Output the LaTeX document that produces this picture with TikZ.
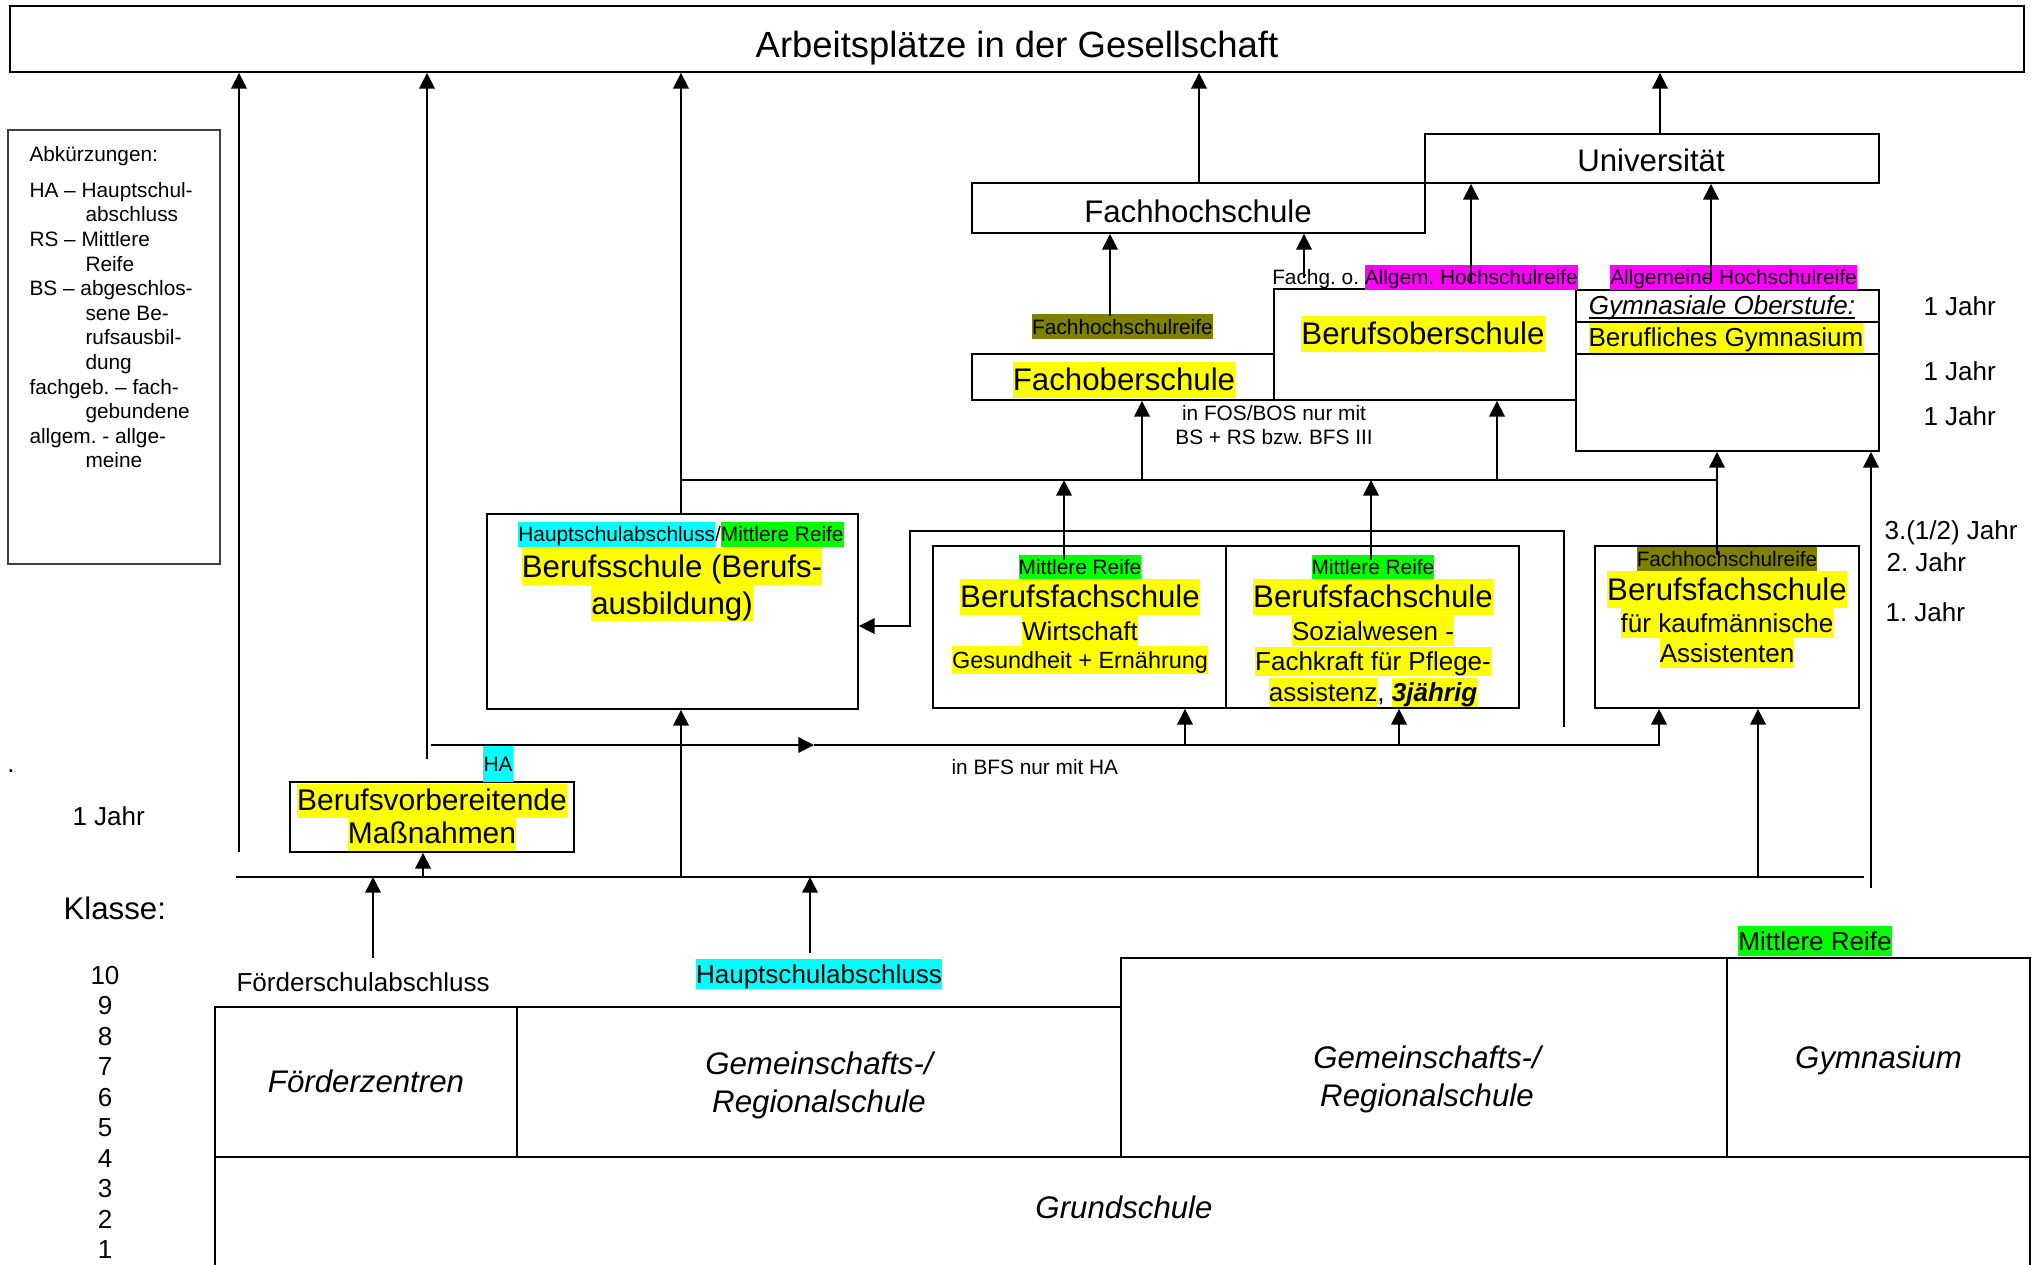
\documentclass[tikz,border=0pt]{standalone}
\usepackage{fontspec}
\setmainfont{Liberation Sans}
\usetikzlibrary{arrows.meta,positioning,calc}

\definecolor{hlyellow}{RGB}{255,255,0}
\definecolor{hlcyan}{RGB}{0,255,255}
\definecolor{hlgreen}{RGB}{0,255,0}
\definecolor{hlmagenta}{RGB}{255,0,255}
\definecolor{hlolive}{RGB}{128,128,0}

\newcommand{\hlstrut}{\vrule width0pt height0.8\baselineskip depth0.2\baselineskip\relax}
\newcommand{\hlbox}[2]{{\setlength{\fboxsep}{0pt}\colorbox{#1}{\hlstrut#2}}}
\newcommand{\ulin}[1]{\setbox0=\hbox{#1}\makebox[0pt][l]{\rule[-0.14em]{\wd0}{0.07em}}\box0}
\newcommand{\szTitle}{\fontsize{14}{16.1}\selectfont}
\newcommand{\szBig}{\fontsize{12}{14}\selectfont}
\newcommand{\szBv}{\fontsize{11.5}{12.7}\selectfont}
\newcommand{\szMid}{\fontsize{10}{11.5}\selectfont}
\newcommand{\szNine}{\fontsize{9}{10.8}\selectfont}
\newcommand{\szSmall}{\fontsize{8}{9.6}\selectfont}

\tikzset{
  bx/.style 2 args={draw, line width=0.7pt, inner sep=0pt, minimum width=#1*0.0135cm, minimum height=#2*0.0135cm},
  txt/.style={inner sep=0pt, align=center},
  ln/.style={line width=0.6pt},
  arr/.style={line width=0.6pt, -{Triangle[length=6pt,width=6pt]}}
}

\begin{document}
\frenchspacing
\begin{tikzpicture}[x=0.0135cm, y=-0.0135cm]
	\useasboundingbox (0,0) rectangle (2040,1264);
	\clip (0,0) rectangle (2040,1264);

	\node[bx={2014}{66}] (work) at (1017,39) {};
	\node[txt, font=\szTitle] (worktxt) at (1017,45) {\hlstrut Arbeitsplätze in der Gesellschaft};

	\node[bx={212}{434}, draw=black!75, line width=0.6pt] (abk) at (114,347) {};
	\node[txt, align=left, anchor=north west, font={\fontsize{8}{9.45}\selectfont}] (abktxt) at (29,141) {\hlstrut Abkürzungen:\\[4.4pt]
		HA -- Hauptschul-\\
		\hspace*{0.756cm}abschluss\\
		RS -- Mittlere\\
		\hspace*{0.756cm}Reife\\
		BS -- abgeschlos-\\
		\hspace*{0.756cm}sene Be-\\
		\hspace*{0.756cm}rufsausbil-\\
		\hspace*{0.756cm}dung\\
		fachgeb. -- fach-\\
		\hspace*{0.756cm}gebundene\\
		allgem. - allge-\\
		\hspace*{0.756cm}meine};

	\node[bx={284}{70}] (bv) at (432,817) {};
	\node[txt, font=\szBv] (bvtxt) at (432,817.5) {\hlbox{hlyellow}{Berufsvorbereitende}\\\hlbox{hlyellow}{Maßnahmen}};
	\node[fill=hlcyan, inner sep=0pt, minimum width=30*0.0135cm, minimum height=36*0.0135cm, font=\szSmall] (halbl) at (498,764) {HA};

	\node[bx={371}{195}] (bs) at (672.5,611.5) {};
	\node[txt, font=\szSmall] (bslbl) at (681,534) {\hlbox{hlcyan}{Hauptschulabschluss}/\hlbox{hlgreen}{Mittlere Reife}};
	\node[txt, font={\fontsize{12}{14.2}\selectfont}] (bstxt) at (672,584.5) {\hlbox{hlyellow}{Berufsschule (Berufs-}\\\hlbox{hlyellow}{ausbildung)}};

	\node[bx={293}{162}] (bfw) at (1079.5,627) {};
	\node[txt, font=\szSmall] (bfw1) at (1080,567) {\hlbox{hlgreen}{Mittlere Reife}};
	\node[txt, font=\szBig] (bfw2) at (1080,597) {\hlbox{hlyellow}{Berufsfachschule}};
	\node[txt, font=\szMid] (bfw3) at (1080,631) {\hlbox{hlyellow}{Wirtschaft}};
	\node[txt, font=\szNine] (bfw4) at (1080,660) {\hlbox{hlyellow}{Gesundheit + Ernährung}};

	\node[bx={293}{162}] (bfp) at (1372.5,627) {};
	\node[txt, font=\szSmall] (bfp1) at (1373,567) {\hlbox{hlgreen}{Mittlere Reife}};
	\node[txt, font=\szBig] (bfp2) at (1373,597) {\hlbox{hlyellow}{Berufsfachschule}};
	\node[txt, font=\szMid] (bfp3) at (1373,631) {\hlbox{hlyellow}{Sozialwesen -}};
	\node[txt, font=\szMid] (bfp4) at (1373,661.5) {\hlbox{hlyellow}{Fachkraft für Pflege-}};
	\node[txt, font=\szMid] (bfp5) at (1373,692.5) {\hlbox{hlyellow}{assistenz}, \hlbox{hlyellow}{\textbf{\textit{3jährig}}}};

	\node[bx={264}{162}] (kfm) at (1727,627) {};
	\node[txt, font=\szSmall] (kfm1) at (1727,559) {\hlbox{hlolive}{Fachhochschulreife}};
	\node[txt, font=\szBig] (kfm2) at (1727,589.5) {\hlbox{hlyellow}{Berufsfachschule}};
	\node[txt, font=\szMid] (kfm3) at (1727,623) {\hlbox{hlyellow}{für kaufmännische}};
	\node[txt, font=\szMid] (kfm4) at (1727,653) {\hlbox{hlyellow}{Assistenten}};

	\node[bx={302}{46}] (fos) at (1123,377) {};
	\node[txt, font=\szBig] (fostxt) at (1124,380) {\hlbox{hlyellow}{Fachoberschule}};
	\node[bx={302}{111}] (bos) at (1425,344.5) {};
	\node[txt, font=\szBig] (bostxt) at (1423,334) {\hlbox{hlyellow}{Berufsoberschule}};

	\node[bx={303}{161}] (gym) at (1727.5,370.5) {};
	\draw[line width=0.7pt] (gym.west |- 0,322) -- (gym.east |- 0,322);
	\draw[line width=0.7pt] (gym.west |- 0,354) -- (gym.east |- 0,354);
	\node[txt, font=\szMid\itshape] (gymt1) at (1722,306) {\hlstrut\ulin{Gymnasiale Oberstufe:}};
	\node[txt, font=\szMid] (gymt2) at (1726,338) {\hlbox{hlyellow}{Berufliches Gymnasium}};

	\node[bx={453}{50}] (fh) at (1198.5,208) {};
	\node[txt, font=\szBig] (fhtxt) at (1198,212) {\hlstrut Fachhochschule};
	\node[bx={454}{49}] (uni) at (1652,158.5) {};
	\node[txt, font=\szBig] (unitxt) at (1651,161) {\hlstrut Universität};

	\node[txt, font=\szSmall] (fhr) at (1122.5,326.5) {\hlbox{hlolive}{Fachhochschulreife}};
	\node[txt, font=\szSmall] (fga) at (1425,277) {{\hlstrut Fachg. o. }\hlbox{hlmagenta}{Allgem. Hochschulreife}};
	\node[txt, font=\szSmall] (aghr) at (1733.5,277) {\hlbox{hlmagenta}{Allgemeine Hochschulreife}};
	\node[txt, font={\fontsize{8}{9.2}\selectfont}] (fosbos) at (1274,425.5) {\hlstrut in FOS/BOS nur mit\\\hlstrut BS + RS bzw. BFS III};
	\node[txt, anchor=west, font=\szSmall] (bfsha) at (951,767) {\hlstrut in BFS nur mit HA};

	\node[txt, anchor=west, font=\szMid] (jahr1) at (1923,307) {\hlstrut 1 Jahr};
	\node[txt, anchor=west, font=\szMid] (jahr2) at (1923,372) {\hlstrut 1 Jahr};
	\node[txt, anchor=west, font=\szMid] (jahr3) at (1923,417) {\hlstrut 1 Jahr};
	\node[txt, anchor=west, font=\szMid] (jahr4) at (1884,530) {\hlstrut 3.(1/2) Jahr};
	\node[txt, anchor=west, font=\szMid] (jahr5) at (1886,562) {\hlstrut 2. Jahr};
	\node[txt, anchor=west, font=\szMid] (jahr6) at (1885,612) {\hlstrut 1. Jahr};

	\node[txt, font=\szMid] (dot) at (11,771) {.};
	\node[txt, anchor=west, font=\szMid] (jahr0) at (72,816) {\hlstrut 1 Jahr};
	\node[txt, anchor=west, font=\szBig] (klasse) at (63,908.5) {\hlstrut Klasse:};
	\foreach \k in {1,...,10}
		\node[txt, font=\szMid] (num\k) at (105,{975+(10-\k)*30.55}) {\hlstrut\k};

	\node[txt, anchor=west, font=\szMid] (fsa) at (236,982) {\hlstrut Förderschulabschluss};
	\node[txt, font=\szMid] (hsa) at (819,974) {\hlbox{hlcyan}{Hauptschulabschluss}};
	\node[txt, font=\szMid] (mr) at (1815,941) {\hlbox{hlgreen}{Mittlere Reife}};

	\node[bx={302}{150}, txt, font=\szBig\itshape] (fz) at (366,1082) {\hlstrut Förderzentren};
	\node[bx={604}{150}, txt, font={\fontsize{12}{14.6}\selectfont\itshape}] (gsl) at (819,1082) {\hlstrut Gemeinschafts-/\\\hlstrut Regionalschule};
	\node[bx={606}{199}] (gsr) at (1424,1057.5) {};
	\node[txt, font={\fontsize{12}{14.6}\selectfont\itshape}] (gsrtxt) at (1427,1076) {\hlstrut Gemeinschafts-/\\\hlstrut Regionalschule};
	\node[bx={303}{199}, txt, font=\szBig\itshape] (gymn) at (1878.5,1057.5) {\hlstrut Gymnasium};
	\node[bx={1815}{146}] (gs) at (1122.5,1230) {};
	\node[txt, font=\szBig\itshape] (gstxt) at (1124,1208) {\hlstrut Grundschule};

	\coordinate (afoot1) at (239,852);
	\coordinate (afoot2) at (427,759);
	\draw[arr] (afoot1) -- (afoot1 |- work.south);
	\draw[arr] (afoot2) -- (afoot2 |- work.south);

	\coordinate (hastart) at (431,745);
	\coordinate (hamid) at (814,745);
	\coordinate (ha1) at (1185,745);
	\coordinate (ha2) at (1399,745);
	\draw[arr] (hastart) -- (hamid);
	\draw[arr] (hamid) -| (kfm.south -| 1659,0);
	\draw[arr] (ha1) -- (ha1 |- bfw.south);
	\draw[arr] (ha2) -- (ha2 |- bfp.south);

	\coordinate (base0) at (236,877);
	\coordinate (base1) at (1864,877);
	\draw[ln] (base0) -- (base1);
	\coordinate (base2) at (423,877);
	\coordinate (base3) at (681,877);
	\coordinate (base4) at (1758,877);
	\draw[arr] (base2) -- (base2 |- bv.south);
	\draw[arr] (base3) -- (base3 |- bs.south);
	\draw[arr] (base4) -- (base4 |- kfm.south);

	\coordinate (fsatop) at (373,958);
	\coordinate (hsatop) at (810,953);
	\draw[arr] (fsatop) -- (fsatop |- base0);
	\draw[arr] (hsatop) -- (hsatop |- base0);

	\draw[arr] (bs.north -| 681,0) -- (work.south -| 681,0);

	\coordinate (up0) at (681,480);
	\coordinate (up1) at (1717,480);
	\draw[ln] (up0) -- (up1);
	\draw[arr] (up0 -| 1142,0) -- (fos.south -| 1142,0);
	\draw[arr] (up0 -| 1497,0) -- (bos.south -| 1497,0);
	\coordinate (mrw) at (1064,560);
	\coordinate (mrp) at (1371,560);
	\draw[arr] (mrw) -- (mrw |- up0);
	\draw[arr] (mrp) -- (mrp |- up0);
	\coordinate (kfup) at (1717,555);
	\draw[arr] (kfup) -- (kfup |- gym.south);
	\coordinate (rfoot) at (1871,888);
	\draw[arr] (rfoot) -- (rfoot |- gym.south);

	\coordinate (frend) at (1564,727);
	\coordinate (fr1) at (1564,531);
	\coordinate (fr2) at (910,531);
	\coordinate (fr3) at (910,626);
	\draw[arr] (frend) -- (fr1) -- (fr2) -- (fr3) -- (fr3 -| bs.east);

	\coordinate (fhrup) at (1110,316);
	\coordinate (fgaup) at (1304,278);
	\coordinate (agup1) at (1471,282);
	\coordinate (agup2) at (1711,282);
	\draw[arr] (fhrup) -- (fhrup |- fh.south);
	\draw[arr] (fgaup) -- (fgaup |- fh.south);
	\draw[arr] (agup1) -- (agup1 |- uni.south);
	\draw[arr] (agup2) -- (agup2 |- uni.south);

	\draw[arr] (fh.north -| 1199,0) -- (work.south -| 1199,0);
	\draw[arr] (uni.north -| 1660,0) -- (work.south -| 1660,0);
\end{tikzpicture}
\end{document}
